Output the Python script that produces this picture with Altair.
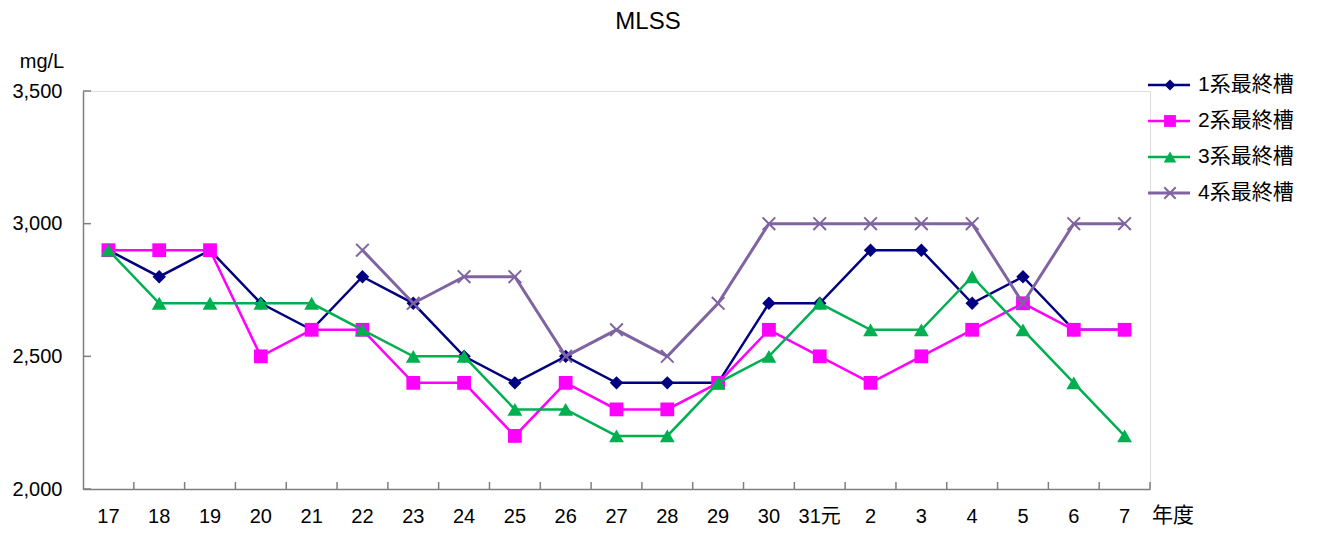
import altair as alt
import pandas as pd

categories = ["17", "18", "19", "20", "21", "22", "23", "24", "25", "26", "27",
              "28", "29", "30", "31元", "2", "3", "4", "5", "6", "7"]
series_names = ["1系最終槽", "2系最終槽", "3系最終槽", "4系最終槽"]
s1 = [2900, 2800, 2900, 2700, 2600, 2800, 2700, 2500, 2400, 2500, 2400,
      2400, 2400, 2700, 2700, 2900, 2900, 2700, 2800, 2600, 2600]
s2 = [2900, 2900, 2900, 2500, 2600, 2600, 2400, 2400, 2200, 2400, 2300,
      2300, 2400, 2600, 2500, 2400, 2500, 2600, 2700, 2600, 2600]
s3 = [2900, 2700, 2700, 2700, 2700, 2600, 2500, 2500, 2300, 2300, 2200,
      2200, 2400, 2500, 2700, 2600, 2600, 2800, 2600, 2400, 2200]
s4 = [None, None, None, None, None, 2900, 2700, 2800, 2800, 2500, 2600,
      2500, 2700, 3000, 3000, 3000, 3000, 3000, 2700, 3000, 3000]
colors = ["#000080", "#FF00FF", "#00B050", "#8064A2"]
y_ticks = [2000, 2500, 3000, 3500]

FONT = "Liberation Sans, Noto Sans CJK JP"
W, H = 1067, 398
AXIS_GRAY = "#7f7f7f"

rows = []
for name, vals in zip(series_names, [s1, s2, s3, s4]):
    for c, v in zip(categories, vals):
        if v is not None:
            rows.append({"cat": c, "value": v, "series": name})
df = pd.DataFrame(rows)

xscale = alt.Scale(type="band", domain=categories, paddingInner=0, paddingOuter=0)
yscale = alt.Scale(domain=[2000, 3500], nice=False, zero=False)

x_axis = alt.Axis(title=None, ticks=False, tickSize=0, labelFont=FONT, labelFontSize=20,
                  labelColor="black", labelPadding=27, labelBaseline="middle", labelAngle=0,
                  domainColor=AXIS_GRAY, domainWidth=1.5, grid=False, labelOverlap=False)
y_axis = alt.Axis(title=None, values=y_ticks, format=",.0f", ticks=False, tickSize=0,
                  labelFont=FONT, labelFontSize=20, labelColor="black", labelPadding=21,
                  labelBaseline="middle", labelFlush=False, labelOverlap=False,
                  domainColor=AXIS_GRAY, domainWidth=1.5, grid=False)


def xenc(band=0.5):
    return alt.X("cat:N", scale=xscale, sort=categories, bandPosition=band, axis=x_axis)


layers = []
shapes = ["diamond", "square", "triangle-up", "M-1,-1L1,1M-1,1L1,-1"]
sizes = [180, 190, 220, 160]
first = True
for name, col, shp, sz in zip(series_names, colors, shapes, sizes):
    base = alt.Chart(df).transform_filter(alt.datum.series == name)
    yax = y_axis if first else None
    first = False
    lw = 3 if shp.startswith("M") else 2.5
    line = base.mark_line(color=col, strokeWidth=lw).encode(
        x=xenc(), y=alt.Y("value:Q", scale=yscale, axis=yax))
    if shp.startswith("M"):
        pt = base.mark_point(shape=shp, filled=False, size=sz, color=col,
                             strokeWidth=2, opacity=1)
    else:
        pt = base.mark_point(shape=shp, filled=True, size=sz, color=col, opacity=1)
    pt = pt.encode(x=xenc(), y=alt.Y("value:Q", scale=yscale, axis=None))
    layers += [line, pt]

# inward tick marks
ytick_df = pd.DataFrame({"v": y_ticks})
ytick = alt.Chart(ytick_df).mark_rule(color=AXIS_GRAY, strokeWidth=1.5).encode(
    x=alt.value(0), x2=alt.value(8),
    y=alt.Y("v:Q", scale=yscale, axis=None))
xtick_df = pd.DataFrame({"cat": categories})
xtick = alt.Chart(xtick_df).mark_rule(color=AXIS_GRAY, strokeWidth=1.5).encode(
    x=xenc(1), y=alt.value(H), y2=alt.value(H - 7))
layers += [ytick, xtick]

# legend
legend_df = pd.DataFrame({"series": series_names, "idx": [0, 1, 2, 3]})
leg_y = alt.Y("idx:Q", scale=alt.Scale(domain=[0, 3], range=[-6, 102]), axis=None)
leg_sizes = [120, 140, 160, 130]
for name, col, shp, sz in zip(series_names, colors, shapes, leg_sizes):
    lb = alt.Chart(legend_df).transform_filter(alt.datum.series == name)
    lw = 3 if shp.startswith("M") else 2.5
    layers.append(lb.mark_rule(color=col, strokeWidth=lw).encode(
        x=alt.value(1065), x2=alt.value(1107), y=leg_y))
    if shp.startswith("M"):
        lp = lb.mark_point(shape=shp, filled=False, size=sz, color=col, strokeWidth=2, opacity=1)
    else:
        lp = lb.mark_point(shape=shp, filled=True, size=sz, color=col, opacity=1)
    layers.append(lp.encode(x=alt.value(1087), y=leg_y))
layers.append(alt.Chart(legend_df).mark_text(
    align="left", baseline="middle", font=FONT, fontSize=21, color="black").encode(
    x=alt.value(1115), y=leg_y, text="series:N"))

# titles
def label(txt, x, y, size):
    return alt.Chart(pd.DataFrame({"t": [txt]})).mark_text(
        align="center", baseline="middle", font=FONT, fontSize=size, color="black").encode(
        x=alt.value(x), y=alt.value(y), text="t:N")

layers.append(label("MLSS", 565, -69, 24))
layers.append(label("mg/L", -41, -29, 20))
layers.append(label("年度", 1090, H + 27, 21))

chart = alt.layer(*layers).resolve_scale(y="independent").properties(
    width=W, height=H,
    autosize=alt.AutoSizeParams(type="none"),
    padding={"left": 75, "top": 83, "right": 160, "bottom": 36},
).configure_view(stroke=None).configure(background="white")

chart.save("out.html", embed_options={"renderer": "svg", "actions": False})
